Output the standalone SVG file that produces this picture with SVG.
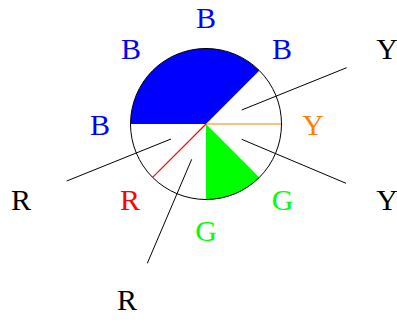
<svg xmlns="http://www.w3.org/2000/svg" width="397" height="322" viewBox="0 0 397 322">
<style>
text{font-family:"Liberation Serif","Times New Roman",serif;font-size:30px;text-anchor:middle}
.k{stroke:#000;stroke-width:1;fill:none}
.b{fill:#0000ff}.g{fill:#00ff00}.r{fill:#ff0000}.o{fill:#ff8000}
</style>
<rect width="397" height="322" fill="#fff"/>
<g id="sectors">
<path d="M206,124 L259.4,70.6 A75.5,75.5 0 0 0 130.5,124 Z" fill="#0000ff"/>
<path d="M206,124 L206,199.5 A75.5,75.5 0 0 0 259.4,177.4 Z" fill="#00ff00"/>
<line x1="206" y1="124" x2="281.5" y2="124" style="stroke:#ff8000;stroke-width:1.2"/>
<line x1="206" y1="124" x2="152.6" y2="177.4" style="stroke:#ff0000;stroke-width:1.2"/>
<circle cx="206" cy="124" r="75.5" class="k"/>
</g>
<g id="connectors">
<line class="k" x1="241.7" y1="110" x2="346.7" y2="67.7"/>
<line class="k" x1="241.7" y1="139.3" x2="346" y2="183.3"/>
<line class="k" x1="171" y1="139" x2="66.7" y2="181"/>
<line class="k" x1="191.7" y1="159.3" x2="147.3" y2="263.3"/>
</g>
<g id="labels">
<text class="b" x="206" y="28">B</text>
<text class="b" x="131" y="59">B</text>
<text class="b" x="282" y="59">B</text>
<text class="b" x="100" y="135">B</text>
<text class="o" x="313" y="135">Y</text>
<text class="g" x="282.5" y="210">G</text>
<text class="g" x="206" y="241">G</text>
<text class="r" x="130" y="210">R</text>
<text x="387" y="59">Y</text>
<text x="387" y="210">Y</text>
<text x="21" y="210">R</text>
<text x="127" y="310">R</text>
</g>
</svg>
